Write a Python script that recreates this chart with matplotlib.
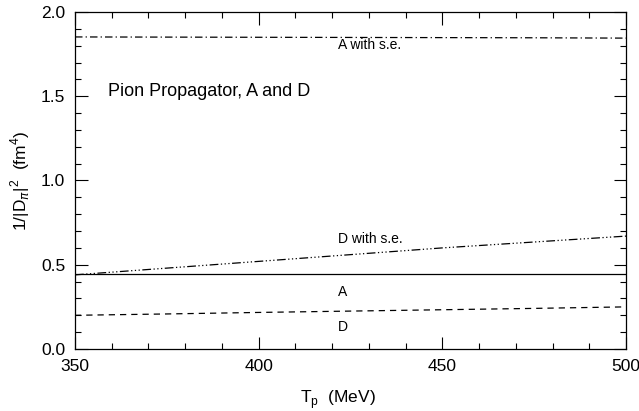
import matplotlib.pyplot as plt
from matplotlib.ticker import MultipleLocator

plt.rcParams['font.family'] = ['Liberation Sans', 'DejaVu Sans']

tp = [350, 375, 400, 425, 450, 475, 500]
a_se = [1.852, 1.851, 1.850, 1.849, 1.848, 1.847, 1.845]
a = [0.445, 0.445, 0.445, 0.445, 0.445, 0.445, 0.445]
d_se = [0.44, 0.48, 0.52, 0.56, 0.60, 0.635, 0.67]
d = [0.20, 0.208, 0.217, 0.225, 0.233, 0.241, 0.25]

fig = plt.figure(figsize=(6.39, 4.11), dpi=100)
ax = fig.add_axes([75 / 639, 1 - 349 / 411, 551 / 639, 337 / 411])

ax.plot(tp, a_se, color='black', lw=0.9, dashes=(6, 2.5, 1, 2.5))
ax.plot(tp, a, color='black', lw=0.9)
ax.plot(tp, d_se, color='black', lw=0.9, dashes=(7, 2, 1, 2, 1, 2, 1, 2))
ax.plot(tp, d, color='black', lw=0.9, dashes=(5, 4))

lab = dict(fontsize=10)
ax.text(421.5, 1.78, 'A with s.e.', **lab)
ax.text(421.5, 0.63, 'D with s.e.', **lab)
ax.text(421.5, 0.315, 'A', **lab)
ax.text(421.5, 0.107, 'D', **lab)
ax.text(359, 1.5, 'Pion Propagator, A and D', fontsize=13)

ax.set_xlim(350, 500)
ax.set_ylim(0, 2.0)
ax.xaxis.set_major_locator(MultipleLocator(50))
ax.xaxis.set_minor_locator(MultipleLocator(10))
ax.yaxis.set_major_locator(MultipleLocator(0.5))
ax.yaxis.set_minor_locator(MultipleLocator(0.1))
ax.yaxis.set_major_formatter(plt.FormatStrFormatter('%.1f'))
ax.tick_params(which='both', direction='in', top=True, right=True, labelsize=12.5, pad=7)
ax.tick_params(which='major', length=9, width=0.8)
ax.tick_params(which='minor', length=4, width=0.8)
for s in ax.spines.values():
    s.set_linewidth(0.9)

ax.set_xlabel(r'T$_\mathregular{p}$  (MeV)', fontsize=12.5)
ax.set_ylabel(r'1/|D$_\pi$|$^\mathregular{2}$  (fm$^\mathregular{4}$)', fontsize=12.5)
ax.xaxis.set_label_coords(0.478, -0.115)
ax.yaxis.set_label_coords(-0.078, 0.5)

fig.savefig('out.png', dpi=100)
